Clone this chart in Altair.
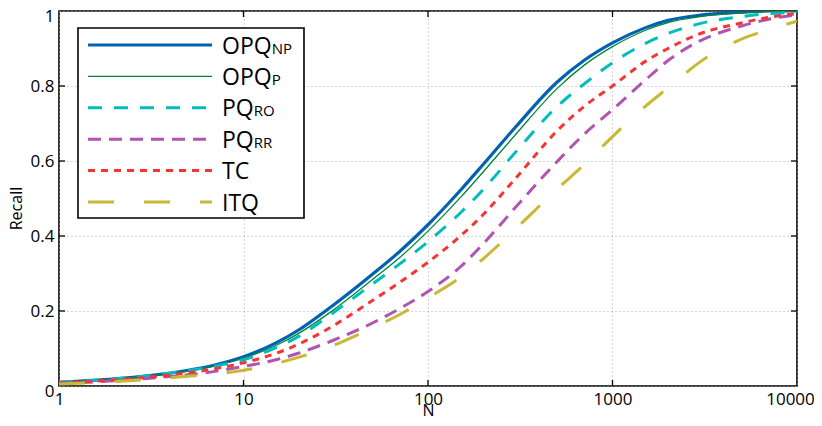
import altair as alt
import pandas as pd

N = [1, 2, 3, 5, 7, 10, 15, 20, 30, 50, 70, 100, 150, 200, 300, 500, 700,
     1000, 1500, 2000, 3000, 5000, 7000, 10000]

opq_np = [0.010, 0.019, 0.027, 0.042, 0.056, 0.078, 0.115, 0.150, 0.212, 0.298, 0.358,
          0.430, 0.522, 0.592, 0.692, 0.810, 0.868, 0.915, 0.955, 0.975, 0.989, 0.997, 1.0, 1.0]
opq_p = [0.010, 0.019, 0.026, 0.040, 0.054, 0.074, 0.108, 0.141, 0.199, 0.284, 0.342,
         0.413, 0.503, 0.572, 0.672, 0.793, 0.855, 0.905, 0.948, 0.969, 0.985, 0.995, 0.999, 1.0]
pq_ro = [0.010, 0.019, 0.027, 0.041, 0.053, 0.070, 0.102, 0.133, 0.192, 0.272, 0.325,
         0.385, 0.462, 0.525, 0.625, 0.745, 0.805, 0.862, 0.913, 0.940, 0.967, 0.985, 0.993, 0.997]
pq_rr = [0.007, 0.014, 0.020, 0.030, 0.039, 0.052, 0.070, 0.088, 0.120, 0.168, 0.206,
         0.252, 0.318, 0.380, 0.478, 0.598, 0.671, 0.737, 0.815, 0.868, 0.921, 0.960, 0.978, 0.990]
tc = [0.008, 0.016, 0.023, 0.035, 0.046, 0.062, 0.087, 0.112, 0.158, 0.228, 0.276,
      0.330, 0.400, 0.458, 0.555, 0.680, 0.745, 0.800, 0.865, 0.900, 0.940, 0.968, 0.983, 0.993]
itq = [0.005, 0.012, 0.017, 0.026, 0.032, 0.042, 0.060, 0.077, 0.106, 0.155, 0.190,
       0.235, 0.290, 0.340, 0.420, 0.525, 0.590, 0.665, 0.745, 0.795, 0.865, 0.925, 0.950, 0.973]

series_keys = ["OPQ_NP", "OPQ_P", "PQ_RO", "PQ_RR", "TC", "ITQ"]
series_values = [opq_np, opq_p, pq_ro, pq_rr, tc, itq]
main_labels = ["OPQ", "OPQ", "PQ", "PQ", "TC", "ITQ"]
sub_labels = ["NP", "P", "RO", "RR", "", ""]

x_tick_values = [1, 10, 100, 1000, 10000]
y_tick_values = [0, 0.2, 0.4, 0.6, 0.8, 1]

# styles
colors = ["#0062b0", "#00843d", "#00bdbd", "#b054b0", "#f53535", "#c8b834"]
dashes = [[1, 0], [1, 0], [14, 12], [13, 8], [7, 6], [26, 30]]
widths = [3.2, 1.3, 3, 3, 3, 3]

W, H = 738, 375
FONT = "Open Sans"

rows = []
for k, vals in zip(series_keys, series_values):
    for n, v in zip(N, vals):
        rows.append({"series": k, "N": n, "recall": v})
df = pd.DataFrame(rows)

xscale = alt.Scale(type="log", domain=[1, 10000], nice=False)
yscale = alt.Scale(domain=[0, 1], nice=False)

base = alt.Chart(df)

axes_layer = alt.Chart(df).mark_line(opacity=0).encode(
    x=alt.X("N:Q", scale=xscale,
            axis=alt.Axis(values=x_tick_values, labelExpr="format(datum.value, 'd')",
                          title="N", titleFont=FONT, titleFontSize=16, titleFontWeight="normal",
                          titleY=24, titleBaseline="middle", titleColor="black",
                          labelFlush=False, labelOverlap=False, labelPadding=5,
                          labelOffset={"condition": {"test": "datum.value >= 10000", "value": -7}, "value": 0},
                          labelFont=FONT, labelFontSize=17, labelColor="black",
                          domain=False, ticks=False,
                          grid=True, gridDash=[1, 3], gridColor="#a8a8a8", gridWidth=1)),
    y=alt.Y("recall:Q", scale=yscale,
            axis=alt.Axis(values=y_tick_values,
                          labelExpr="datum.value == 0 ? '0' : datum.value == 1 ? '1' : format(datum.value, '.1f')",
                          title="Recall", titleFont=FONT, titleFontSize=16, titleFontWeight="normal",
                          titleX=-43, titleY=197, titleBaseline="middle", titleColor="black",
                          labelPadding=5, labelFlush=False, labelOverlap=False,
                          labelOffset={"condition": {"test": "datum.value == 0 || datum.value == 1", "value": 5}, "value": 0},
                          labelFont=FONT, labelFontSize=17, labelColor="black",
                          domain=False, ticks=False,
                          grid=True, gridDash=[1, 3], gridColor="#a8a8a8", gridWidth=1)),
)

layers = [axes_layer]

# inward ticks
xt = pd.DataFrame({"N": x_tick_values[1:-1]})
yt = pd.DataFrame({"recall": y_tick_values[1:-1]})
tick_len = 6
layers.append(alt.Chart(xt).mark_rule(color="black", strokeWidth=1.3).encode(
    x=alt.X("N:Q", scale=xscale), y=alt.value(H), y2=alt.value(H - tick_len)))
layers.append(alt.Chart(xt).mark_rule(color="black", strokeWidth=1.3).encode(
    x=alt.X("N:Q", scale=xscale), y=alt.value(0), y2=alt.value(tick_len)))
layers.append(alt.Chart(yt).mark_rule(color="black", strokeWidth=1.3).encode(
    y=alt.Y("recall:Q", scale=yscale), x=alt.value(0), x2=alt.value(tick_len)))
layers.append(alt.Chart(yt).mark_rule(color="black", strokeWidth=1.3).encode(
    y=alt.Y("recall:Q", scale=yscale), x=alt.value(W - tick_len), x2=alt.value(W)))

# curves
for k, c, d, w in zip(series_keys, colors, dashes, widths):
    mk = dict(color=c, strokeWidth=w, interpolate="monotone", clip=True)
    if d != [1, 0]:
        mk["strokeDash"] = d
    layers.append(base.transform_filter(alt.datum.series == k).mark_line(**mk).encode(
        x=alt.X("N:Q", scale=xscale), y=alt.Y("recall:Q", scale=yscale), order="N:Q"))

# legend
one = pd.DataFrame({"k": [0]})
layers.append(alt.Chart(one).mark_rect(fill="white", stroke="black", strokeWidth=1.6).encode(
    x=alt.value(19), x2=alt.value(245), y=alt.value(17), y2=alt.value(207)))

char_w = {"O": 0.781, "P": 0.604, "Q": 0.781, "T": 0.552, "C": 0.634, "I": 0.297}
MAIN_FS, SUB_FS = 23, 15
row0, row_step = 34, 31.4
for i, (k, c, d, w) in enumerate(zip(series_keys, colors, dashes, widths)):
    yrow = row0 + i * row_step
    mk = dict(color=c, strokeWidth=w)
    if d != [1, 0]:
        mk["strokeDash"] = d
    layers.append(alt.Chart(one).mark_rule(**mk).encode(
        x=alt.value(29), x2=alt.value(153), y=alt.value(yrow)))
    layers.append(alt.Chart(one).mark_text(
        text=main_labels[i], font=FONT, fontSize=MAIN_FS, align="left",
        baseline="alphabetic", color="black").encode(
        x=alt.value(163), y=alt.value(yrow + 8.5)))
    if sub_labels[i]:
        mw = sum(char_w[ch] for ch in main_labels[i]) * MAIN_FS
        layers.append(alt.Chart(one).mark_text(
            text=sub_labels[i], font=FONT, fontSize=SUB_FS, align="left",
            baseline="alphabetic", color="black").encode(
            x=alt.value(163 + mw), y=alt.value(yrow + 8.5)))

chart = alt.layer(*layers).properties(
    width=W, height=H,
    autosize=alt.AutoSizeParams(type="none"),
    padding={"left": 51, "top": 3, "right": 17, "bottom": 32},
).configure(background="white").configure_view(stroke="black", strokeWidth=1.6)

chart.save("out.html", embed_options={"renderer": "svg", "actions": False})
